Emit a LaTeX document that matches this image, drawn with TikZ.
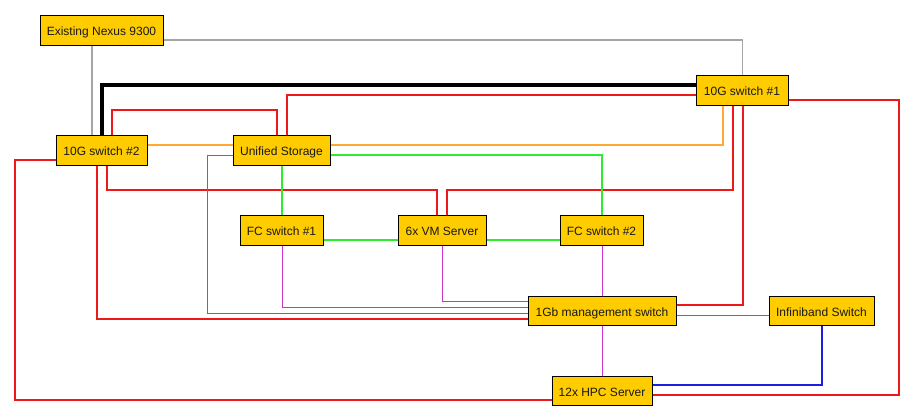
\documentclass[tikz,border=0pt]{standalone}
\usepackage{fontspec}
\setmainfont{Liberation Sans}
\usetikzlibrary{backgrounds}
\definecolor{boxfill}{RGB}{255,204,0}
\definecolor{lred}{RGB}{238,24,24}
\definecolor{lorange}{RGB}{255,168,50}
\definecolor{lgreen}{RGB}{45,235,45}
\definecolor{lmag}{RGB}{200,50,200}
\definecolor{lblue}{RGB}{30,30,225}
\definecolor{lgray}{RGB}{165,165,165}
\tikzset{
  dev/.style={draw=black, line width=0.9pt, fill=boxfill, rectangle, inner sep=0pt,
    minimum height=30pt, font=\fontsize{12}{13}\selectfont, text=black!90,
    text height=11.6pt, text depth=0.4pt},
  redl/.style={draw=lred, line width=2pt},
  orl/.style={draw=lorange, line width=1.7pt},
  grl/.style={draw=lgreen, line width=2pt},
  mgl/.style={draw=lmag, line width=0.8pt},
  bll/.style={draw=lblue, line width=2pt},
  gyl/.style={draw=lgray, line width=1.4pt},
  bkl/.style={draw=black, line width=4pt},
}
\begin{document}
\begin{tikzpicture}[x=1pt,y=-1pt]
\useasboundingbox (0,0) rectangle (915,420);
% nodes
\node[dev, minimum width=123pt] (nexus) at (101.5,30) {Existing Nexus 9300};
\node[dev, minimum width=91pt] (sw2) at (101.5,150) {10G switch \#2};
\node[dev, minimum width=97pt] (stor) at (281.5,150) {Unified Storage};
\node[dev, minimum width=92pt] (sw1) at (742,90) {10G switch \#1};
\node[dev, minimum width=83pt] (fc1) at (281.5,230) {FC switch \#1};
\node[dev, minimum width=88pt] (vm) at (442,230) {6x VM Server};
\node[dev, minimum width=83pt] (fc2) at (601.5,230) {FC switch \#2};
\node[dev, minimum width=148pt, minimum height=29pt] (mgmt) at (602,310.5) {1Gb management switch};
\node[dev, minimum width=105pt, minimum height=29pt] (ib) at (821.5,310.5) {Infiniband Switch};
\node[dev, minimum width=100pt, minimum height=29pt] (hpc) at (602,390.5) {12x HPC Server};
\begin{scope}[on background layer]
\fill[white] (0,0) rectangle (915,420);
% gray
\draw[gyl] ([yshift=-10pt]nexus.east) -| ([xshift=0.5pt]sw1.north);
\draw[gyl] ([xshift=-9.5pt]nexus.south) -- ([xshift=-9.5pt]sw2.north);
% black
\draw[bkl] ([xshift=0.5pt]sw2.north) |- ([yshift=5pt]sw1.west);
% red
\draw[redl] ([xshift=10.5pt]sw2.north) -- ++(0,-25) -| ([xshift=-4.5pt]stor.north);
\draw[redl] ([xshift=5.5pt]stor.north) |- ([yshift=-5pt]sw1.west);
\draw[redl] ([xshift=5.5pt]sw2.south) -- ++(0,25) -| ([xshift=-5pt]vm.north);
\draw[redl] ([xshift=-9pt]sw1.south) -- ++(0,85) -| ([xshift=5pt]vm.north);
\draw[redl] ([xshift=1pt]sw1.south) |- ([yshift=5.5pt]mgmt.east);
\draw[redl] ([yshift=-10pt]sw1.east) -- ++(111,0) |- ([yshift=-4.5pt]hpc.east);
\draw[redl] ([yshift=-10pt]sw2.west) -- ++(-41,0) |- ([yshift=-9.5pt]hpc.west);
\draw[redl] ([xshift=-4.5pt]sw2.south) |- ([yshift=-8.5pt]mgmt.west);
% orange
\draw[orl] ([yshift=5pt]sw2.east) -- ([yshift=5pt]stor.west);
\draw[orl] ([yshift=5pt]stor.east) -| ([xshift=-19pt]sw1.south);
% green
\draw[grl] ([yshift=-5pt]stor.east) -| ([xshift=0.5pt]fc2.north);
\draw[grl] ([xshift=0.5pt]stor.south) -- ([xshift=0.5pt]fc1.north);
\draw[grl] ([yshift=-10pt]fc1.east) -- ([yshift=-10pt]vm.west);
\draw[grl] ([yshift=-10pt]vm.east) -- ([yshift=-10pt]fc2.west);
% magenta
\draw[mgl] ([yshift=-5pt]stor.west) -- ++(-25,0) |- ([yshift=-2.5pt]mgmt.west);
\draw[mgl] ([xshift=1pt]fc1.south) |- ([yshift=3.5pt]mgmt.west);
\draw[mgl] (vm.south) |- ([yshift=9.5pt]mgmt.west);
\draw[mgl] ([xshift=0.5pt]fc2.south) -- ([xshift=0.5pt]fc2.south |- mgmt.north);
\draw[mgl] (mgmt.south) -- (hpc.north);
\draw[mgl] ([yshift=-4.5pt]mgmt.east) -- ([yshift=-4.5pt]ib.west);
% blue
\draw[bll] ([xshift=0.5pt]ib.south) |- ([yshift=5.5pt]hpc.east);
\end{scope}
\end{tikzpicture}
\end{document}
